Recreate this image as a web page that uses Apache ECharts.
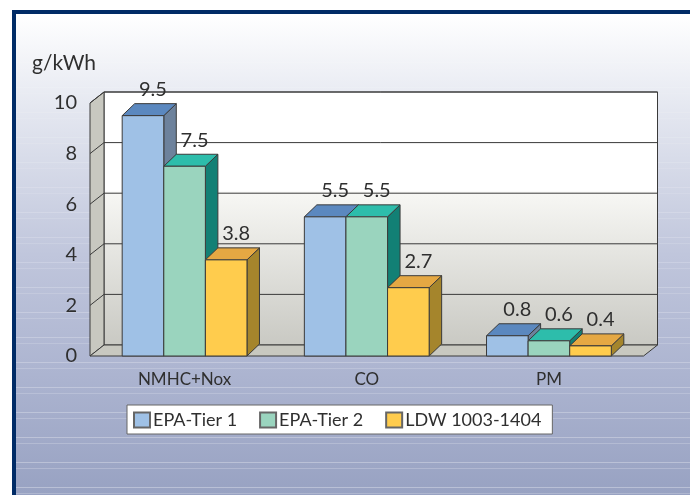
<!DOCTYPE html>
<html lang="en">
<head>
    <meta charset="UTF-8">
    <title>g/kWh</title>
    <style>
        html, body { margin: 0; padding: 0; background: #fff; }
        #box { width: 690px; height: 495px; }
    </style>
</head>
<body>
<div id="box"></div>
<script src="https://cdn.jsdelivr.net/npm/echarts@6/dist/echarts.min.js"></script>
<script>
    var categories = ['NMHC+Nox', 'CO', 'PM'];
    var tier1 = [9.5, 5.5, 0.8];
    var tier2 = [7.5, 5.5, 0.6];
    var ldw = [3.8, 2.7, 0.4];
    var ticks = [0, 2, 4, 6, 8, 10];
    var unit = 'g/kWh';

    var fontName = 'Lato, Roboto, sans-serif';
    var inkLine = '#3a3a3a';
    var barWidth = 41.6;
    var barDepth = [12.5, -12];
    var wallDepth = [14, -11];
    var wallPad = 3.5; // walls run a little past the category bands

    var mychart = echarts.init(document.getElementById('box'), null, { renderer: 'canvas' });

    // background: panel with faint light stripes, navy edge on top and left
    var bg = [
        { type: 'rect', shape: { x: 12, y: 10, width: 678, height: 485 }, style: { fill: '#002b66' } },
        {
            type: 'rect', shape: { x: 16, y: 14, width: 674, height: 481 },
            style: {
                fill: new echarts.graphic.LinearGradient(0, 0, 0, 1, [
                    { offset: 0, color: '#ffffff' },
                    { offset: 0.2, color: '#e4e7f0' },
                    { offset: 0.5, color: '#c0c6dc' },
                    { offset: 0.75, color: '#acb4d0' },
                    { offset: 1, color: '#98a2c2' }
                ])
            }
        }
    ];
    for (var sy = 37; sy < 495; sy += 25) {
        var a = 0.06 + 0.26 * sy / 495;
        bg.push({ type: 'rect', shape: { x: 16, y: sy, width: 674, height: 1 }, style: { fill: 'rgba(255,255,255,' + a + ')' } });
        bg.push({ type: 'rect', shape: { x: 16, y: sy + 6, width: 674, height: 1 }, style: { fill: 'rgba(255,255,255,' + a * 0.7 + ')' } });
    }

    function poly(points, fill, z2) {
        return {
            type: 'polygon',
            shape: { points: points },
            z2: z2 || 1,
            style: { fill: fill, stroke: inkLine, lineWidth: 1 }
        };
    }

    // walls and floor; one item per tick so grid lines follow the value axis
    function renderWall(params, api) {
        var v = api.value(0);
        var cs = params.coordSys;
        var left = cs.x - wallPad, right = cs.x + cs.width + wallPad;
        var y = api.coord([0, v])[1];
        var dx = wallDepth[0], dy = wallDepth[1];
        var kids = [];
        if (v === 0) {
            var top = api.coord([0, ticks[ticks.length - 1]])[1];
            kids.push(poly([[left + dx, top + dy], [right + dx, top + dy], [right + dx, y + dy], [left + dx, y + dy]],
                new echarts.graphic.LinearGradient(0, 0, 0, 1, [
                    { offset: 0, color: '#ffffff' },
                    { offset: 0.39, color: '#ffffff' },
                    { offset: 0.4, color: '#f7f7f4' },
                    { offset: 1, color: '#c9c9c3' }
                ])));
            kids.push(poly([[left, top], [left + dx, top + dy], [left + dx, y + dy], [left, y]], '#c8c8c0'));
            kids.push(poly([[left, y], [left + dx, y + dy], [right + dx, y + dy], [right, y]], '#c8c8c0'));
        } else {
            kids.push({ type: 'polyline', shape: { points: [[left, y], [left + dx, y + dy], [right + dx, y + dy]] }, z2: 2, style: { fill: null, stroke: inkLine, lineWidth: 1 } });
        }
        return { type: 'group', children: kids };
    }

    function makeBarSeries(name, values, slot, front, topc, side) {
        return {
            name: name,
            type: 'custom',
            coordinateSystem: 'cartesian2d',
            clip: false,
            z: 3 + slot,
            itemStyle: { color: front, borderColor: '#666', borderWidth: 1 },
            encode: { x: 0, y: 1 },
            data: values.map(function (v, i) { return [i, v]; }),
            renderItem: function (params, api) {
                var base = api.coord([api.value(0), 0]);
                var tip = api.coord([api.value(0), api.value(1)]);
                var x0 = base[0] + (slot - 1.5) * barWidth;
                var x1 = x0 + barWidth;
                var y0 = base[1], y1 = tip[1];
                var dx = barDepth[0], dy = barDepth[1];
                return {
                    type: 'group',
                    children: [
                        poly([[x1, y1], [x1 + dx, y1 + dy], [x1 + dx, y0 + dy], [x1, y0]], side),
                        poly([[x0, y1], [x0 + dx, y1 + dy], [x1 + dx, y1 + dy], [x1, y1]], topc),
                        poly([[x0, y1], [x1, y1], [x1, y0], [x0, y0]], front),
                        {
                            type: 'text',
                            z2: 5,
                            style: {
                                x: x0 + barWidth / 2 + 10,
                                y: y1 + dy - 4,
                                text: String(api.value(1)),
                                align: 'center',
                                verticalAlign: 'bottom',
                                font: '20px ' + fontName,
                                fill: '#2f2f2f'
                            }
                        }
                    ]
                };
            }
        };
    }

    var option = {
        animation: false,
        graphic: { elements: bg.map(function (e) { e.silent = true; e.z = -10; return e; }) },
        title: {
            text: unit,
            left: 32,
            top: 53,
            padding: 0,
            textStyle: { fontFamily: fontName, fontWeight: 'normal', fontSize: 21, color: '#2f2f2f' }
        },
        legend: {
            left: 127,
            top: 405,
            orient: 'horizontal',
            data: ['EPA-Tier 1', 'EPA-Tier 2', 'LDW 1003-1404'],
            backgroundColor: '#ffffff',
            borderColor: '#666',
            borderWidth: 1,
            borderRadius: 0,
            padding: [6, 11, 5, 6],
            itemWidth: 16,
            itemHeight: 15,
            itemGap: 22,
            icon: 'rect',
            selectedMode: false,
            textStyle: { fontFamily: fontName, fontSize: 18, color: '#2f2f2f', padding: [0, 0, 0, -2], lineHeight: 17 }
        },
        grid: { left: 93.5, right: 50, top: 103, bottom: 139 },
        xAxis: {
            type: 'category',
            data: categories,
            axisLine: { show: false },
            axisTick: { show: false },
            splitLine: { show: false },
            axisLabel: { margin: 15, fontFamily: fontName, fontSize: 17, color: '#2f2f2f' }
        },
        yAxis: {
            type: 'value',
            min: 0,
            max: 10,
            interval: 2,
            axisLine: { show: false },
            axisTick: { show: false },
            splitLine: { show: false },
            axisLabel: { margin: 16.5, fontFamily: fontName, fontSize: 20, color: '#2f2f2f', padding: [5, 0, 0, 0] }
        },
        series: [
            {
                type: 'custom',
                coordinateSystem: 'cartesian2d',
                clip: false,
                silent: true,
                z: 1,
                encode: { y: 0 },
                data: ticks.map(function (t) { return [t]; }),
                renderItem: renderWall
            },
            makeBarSeries('EPA-Tier 1', tier1, 0, '#9fc1e6', '#5b88bf', '#6d829c'),
            makeBarSeries('EPA-Tier 2', tier2, 1, '#9ad4be', '#2dbdab', '#128075'),
            makeBarSeries('LDW 1003-1404', ldw, 2, '#ffcc4d', '#e5a843', '#a5852c')
        ]
    };
    mychart.setOption(option);
</script>
</body>
</html>
